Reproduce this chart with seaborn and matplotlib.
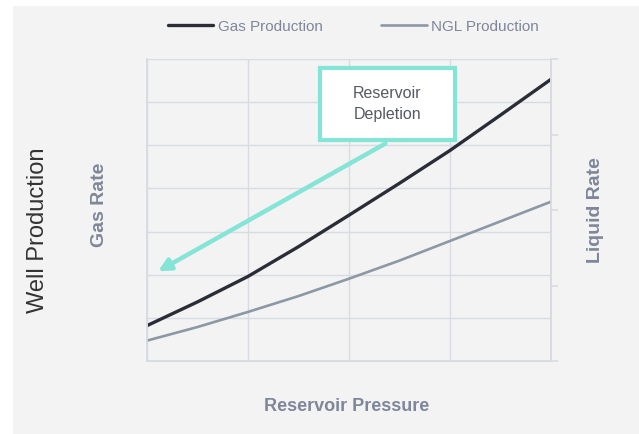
import numpy as np
import pandas as pd
import matplotlib
matplotlib.use("Agg")
import matplotlib.pyplot as plt
from matplotlib.patches import Rectangle
import seaborn as sns

# values (pressure steps, gas on left scale, NGL on right scale)
pressure = [0, 0.5, 1, 1.5, 2, 2.5, 3, 3.5, 4]
gas_rate = [0.82, 1.37, 1.96, 2.65, 3.38, 4.12, 4.88, 5.70, 6.53]
ngl_rate = [0.27, 0.45, 0.65, 0.86, 1.09, 1.33, 1.59, 1.85, 2.11]
series_names = ["Gas Production", "NGL Production"]

gas_df = pd.DataFrame({"pressure": pressure, "rate": gas_rate})
ngl_df = pd.DataFrame({"pressure": pressure, "rate": ngl_rate})

sns.set_style("white")
plt.rcParams["font.family"] = ["Liberation Sans", "DejaVu Sans"]

GAS_C = "#2a2c38"
NGL_C = "#8c98a5"
GRID_C = "#d9dbe2"
TEAL = "#84e4d6"
LABEL_C = "#7f869a"

fig = plt.figure(figsize=(6.39, 4.35), dpi=100, facecolor="white")
fig.patches.append(Rectangle((13 / 639, 0), 1, 1 - 7 / 435, transform=fig.transFigure,
                             facecolor="#f3f3f3", edgecolor="none", zorder=-10))

ax = fig.add_axes([147 / 639, 73 / 435, 404 / 639, 302 / 435])
ax.set_facecolor("none")
ax2 = ax.twinx()

sns.lineplot(data=gas_df, x="pressure", y="rate", ax=ax, color=GAS_C, lw=2.4,
             label=series_names[0], legend=False)
sns.lineplot(data=ngl_df, x="pressure", y="rate", ax=ax2, color=NGL_C, lw=1.9,
             label=series_names[1], legend=False)

ax.set_xlim(0, 4)
ax.set_ylim(0, 7)
ax2.set_ylim(0, 4)
ax.set_xticks(np.arange(0, 5))
ax.set_yticks(np.arange(0, 8))
ax2.set_yticks(np.arange(0, 5))
ax.grid(True, color=GRID_C, lw=1.0)
ax.tick_params(left=False, bottom=False, labelleft=False, labelbottom=False)
ax2.tick_params(axis="y", right=True, length=5, color=GRID_C, width=1.2, labelright=False)
for a in (ax, ax2):
    a.set_xlabel("")
    a.set_ylabel("")
    for side in ["left", "right", "bottom", "top"]:
        a.spines[side].set_color(GRID_C)
        a.spines[side].set_linewidth(1.2)
ax.spines["top"].set_visible(False)
ax2.spines["top"].set_visible(False)

# annotation box + arrow
ax2.add_patch(Rectangle((1.71, 5.13 * 4 / 7), 1.34, 1.66 * 4 / 7, facecolor="white",
                        edgecolor=TEAL, lw=3, zorder=5))
ax2.text(2.38, 5.97 * 4 / 7, "Reservoir\nDepletion", ha="center", va="center",
         fontsize=11.5, color="#555a62", linespacing=1.5, zorder=6)
ax2.annotate("", xy=(0.11, 2.08 * 4 / 7), xytext=(2.36, 5.04 * 4 / 7),
             arrowprops=dict(arrowstyle="-|>", color=TEAL, lw=3.2, mutation_scale=18,
                             shrinkA=0, shrinkB=0), zorder=5)

# legend above the plot
h1, l1 = ax.get_legend_handles_labels()
h2, l2 = ax2.get_legend_handles_labels()
leg = fig.legend(h1 + h2, l1 + l2, loc="center", bbox_to_anchor=(0.553, 0.938), ncol=2,
                 frameon=False, handlelength=3.0, handletextpad=0.3, columnspacing=3.8,
                 prop={"size": 11})
for t in leg.get_texts():
    t.set_color(LABEL_C)

fig.text(38 / 639, 1 - 230 / 435, "Well Production", rotation=90, ha="center", va="center",
         fontsize=17, color="#333333")
fig.text(100 / 639, 1 - 205 / 435, "Gas Rate", rotation=90, ha="center", va="center",
         fontsize=14, color=LABEL_C, fontweight="bold")
fig.text(595 / 639, 1 - 210 / 435, "Liquid Rate", rotation=90, ha="center", va="center",
         fontsize=14, color=LABEL_C, fontweight="bold")
fig.text(347 / 639, 1 - 407 / 435, "Reservoir Pressure", ha="center", va="center",
         fontsize=13, color=LABEL_C, fontweight="bold")

fig.savefig("out.png", dpi=100, facecolor="white")
